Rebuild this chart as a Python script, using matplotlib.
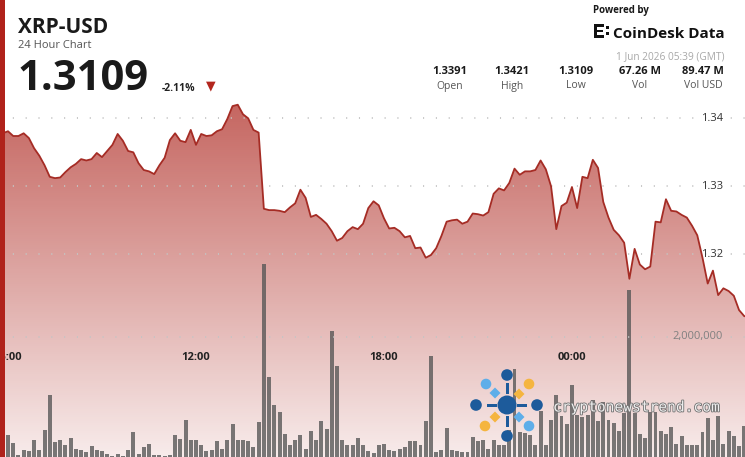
import numpy as np
import pandas as pd
import matplotlib
matplotlib.use('Agg')
import matplotlib.pyplot as plt
import matplotlib.dates as mdates
from matplotlib.colors import LinearSegmentedColormap
from matplotlib.patches import Rectangle, Circle, Polygon
import matplotlib.patheffects as pe

plt.rcParams['font.family'] = ['Open Sans', 'DejaVu Sans']

# ---------------- data ----------------
symbol = "XRP-USD"
subtitle = "24 Hour Chart"
last_price = "1.3109"
change_pct = "-2.11%"
stat_values = ["1.3391", "1.3421", "1.3109", "67.26 M", "89.47 M"]
stat_labels = ["Open", "High", "Low", "Vol", "Vol USD"]
timestamp = "1 Jun 2026 05:39 (GMT)"
price_ticks = [1.34, 1.33, 1.32]
price_tick_labels = ["1.34", "1.33", "1.32"]
volume_tick = 2_000_000
volume_tick_label = "2,000,000"
time_ticks = ["2026-05-31 06:00", "2026-05-31 12:00", "2026-05-31 18:00", "2026-06-01 00:00"]
time_tick_labels = ["06:00", "12:00", "18:00", "00:00"]
watermark = "cryptonewstrend.com"

prices = [
    1.3378, 1.3378, 1.3381, 1.3374, 1.3374, 1.3378, 1.3371, 1.3356, 1.3345, 1.3331,
    1.3314, 1.3312, 1.3313, 1.3321, 1.3328, 1.3333, 1.3340, 1.3338, 1.3340, 1.3349,
    1.3343, 1.3352, 1.3361, 1.3377, 1.3367, 1.3352, 1.3350, 1.3334, 1.3324, 1.3322,
    1.3318, 1.3331, 1.3342, 1.3368, 1.3378, 1.3367, 1.3365, 1.3383, 1.3361, 1.3377,
    1.3374, 1.3375, 1.3381, 1.3384, 1.3399, 1.3418, 1.3420, 1.3406, 1.3400, 1.3383,
    1.3379, 1.3267, 1.3265, 1.3265, 1.3264, 1.3262, 1.3269, 1.3275, 1.3295, 1.3283,
    1.3255, 1.3258, 1.3252, 1.3245, 1.3234, 1.3220, 1.3224, 1.3234, 1.3240, 1.3237,
    1.3245, 1.3268, 1.3278, 1.3272, 1.3253, 1.3238, 1.3239, 1.3234, 1.3225, 1.3227,
    1.3209, 1.3210, 1.3195, 1.3199, 1.3209, 1.3227, 1.3248, 1.3250, 1.3251, 1.3245,
    1.3248, 1.3260, 1.3259, 1.3257, 1.3262, 1.3289, 1.3297, 1.3294, 1.3305, 1.3326,
    1.3317, 1.3322, 1.3322, 1.3324, 1.3338, 1.3325, 1.3300, 1.3237, 1.3271, 1.3276,
    1.3299, 1.3268, 1.3314, 1.3312, 1.3339, 1.3327, 1.3277, 1.3254, 1.3236, 1.3228,
    1.3217, 1.3164, 1.3208, 1.3185, 1.3178, 1.3182, 1.3248, 1.3247, 1.3281, 1.3264,
    1.3263, 1.3258, 1.3254, 1.3242, 1.3228, 1.3195, 1.3157, 1.3176, 1.3140, 1.3150,
    1.3146, 1.3139, 1.3118, 1.3109, 1.3109,
]

volumes_k = [
    150, 200, 361, 233, 30, 111, 94, 278, 111, 456,
    1039, 250, 278, 194, 317, 139, 122, 83, 183, 122,
    100, 56, 11, 44, 11, 111, 422, 44, 167, 211,
    28, 39, 17, 33, 372, 300, 611, 289, 278, 194,
    100, 122, 261, 133, 278, 556, 278, 278, 261, 167,
    583, 3211, 1333, 861, 750, 389, 194, 278, 372, 139,
    433, 278, 600, 472, 2094, 1511, 289, 206, 206, 317,
    194, 94, 60, 194, 222, 122, 94, 139, 167, 267,
    267, 194, 600, 1678, 83, 111, 489, 111, 100, 83,
    83, 333, 267, 278, 128, 278, 194, 194, 444, 1472,
    417, 400, 361, 194, 767, 194, 622, 1028, 678, 556,
    1194, 694, 667, 694, 944, 600, 917, 622, 567, 433,
    733, 2789, 733, 378, 322, 750, 750, 433, 378, 500,
    222, 344, 194, 194, 194, 417, 656, 278, 678, 211,
    433, 344, 178, 511,
]

price_times = pd.date_range("2026-05-31 05:40", periods=len(prices), freq="10min")
bar_times = pd.date_range("2026-05-31 05:40", periods=len(volumes_k), freq="10min")

# ---------------- figure ----------------
W, H = 745, 457
fig = plt.figure(figsize=(W / 100, H / 100), dpi=100, facecolor='white')
rect = [0, 0, 1, 362 / H]

xlo = mdates.date2num(pd.Timestamp("2026-05-31 05:44:42"))
xhi = mdates.date2num(pd.Timestamp("2026-06-01 05:31:24"))
ylo, yhi = 1.29019, 1.34343

# price axes (below)
ax = fig.add_axes(rect, zorder=1)
ax.set_axis_off()
px = mdates.date2num(price_times)
cmap = LinearSegmentedColormap.from_list(
    'fade', [(0.71, 0.235, 0.204, 0.10), (0.71, 0.235, 0.204, 0.80)])
grad = np.linspace(1, 0, 256).reshape(-1, 1)
img = ax.imshow(grad, cmap=cmap, vmin=0, vmax=1, aspect='auto',
                extent=[px[0], px[-1], ylo, yhi], origin='upper', zorder=1,
                interpolation='bilinear')
verts = np.vstack([np.column_stack([px, prices]),
                   [[px[-1], ylo], [px[0], ylo]]])
clip = Polygon(verts, closed=True, transform=ax.transData,
               facecolor='none', edgecolor='none')
ax.add_patch(clip)
img.set_clip_path(clip)
for v in price_ticks:
    ax.axhline(v, color='#c4c4c4', lw=1.3, linestyle=(0, (0.6, 6.5)), zorder=2)
ax.plot(px, prices, color='#a52c25', lw=1.3, zorder=3)
ax.set_xlim(xlo, xhi)
ax.set_ylim(ylo, yhi)

for v, lab in zip(price_ticks, price_tick_labels):
    ax.text(0.9705, v, lab, transform=ax.get_yaxis_transform(), ha='right',
            va='center', fontsize=8, color='#333333', zorder=4)
for t, lab in zip(time_ticks, time_tick_labels):
    ax.text(mdates.date2num(pd.Timestamp(t)), 0.276, lab,
            transform=ax.get_xaxis_transform(), ha='center', va='center',
            fontsize=8, fontweight='bold', color='#222222', zorder=4)

# volume axes (above, transparent)
ax2 = fig.add_axes(rect, zorder=2)
ax2.set_axis_off()
ax2.patch.set_visible(False)
bx = mdates.date2num(bar_times)
ax2.axhline(volume_tick, color='#c4c4c4', lw=1.3, linestyle=(0, (0.6, 6.5)))
ax2.bar(bx, np.array(volumes_k) * 1000, width=0.76 * 10 / 1440,
        color='#555555', alpha=0.78, linewidth=0)
ax2.set_xlim(xlo, xhi)
ax2.set_ylim(0, 6.033e6)
ax2.text(0.9705, volume_tick, volume_tick_label, transform=ax2.get_yaxis_transform(),
         ha='right', va='center', fontsize=8, color='#808080')

# ---------------- overlay: header, logos ----------------
ov = fig.add_axes([0, 0, 1, 1], zorder=3)
ov.set_xlim(0, W)
ov.set_ylim(H, 0)
ov.set_axis_off()
ov.patch.set_visible(False)

ov.add_patch(Rectangle((0, 0), 4.5, H, color='#b0221b', lw=0))

ov.text(18, 33, symbol, fontsize=15, fontweight='bold', color='#1a1a1a', va='baseline')
ov.text(18, 48, subtitle, fontsize=8, color='#555555', va='baseline')
ov.text(18, 90, last_price, fontsize=30, fontweight='bold', color='#1a1a1a', va='baseline')
ov.text(162, 91, change_pct, fontsize=7.5, fontweight='bold', color='#222222', va='baseline')
ov.text(211, 86, "\u25BC", fontsize=9, color='#b3261e', ha='center', va='center',
        family=['DejaVu Sans'])

ov.text(593, 13, "Powered by", fontsize=7, fontweight='bold', color='#1a1a1a', va='baseline')
# CoinDesk icon
for r in [(594, 24, 3, 13.5), (594, 24, 10, 2.6), (597, 29.6, 6, 2.4), (594, 35, 10, 2.6),
          (606, 26, 3, 2.6), (606, 32, 3, 2.6)]:
    ov.add_patch(Rectangle((r[0], r[1]), r[2], r[3], color='#111111', lw=0))
ov.text(613, 37.5, "CoinDesk Data", fontsize=11, fontweight='bold', color='#111111',
        va='baseline')
ov.text(724, 59, timestamp, fontsize=7.3, color='#a8a8a8', ha='right', va='baseline')

stat_x = [450, 512, 576, 640, 703]
for xx, val, lab in zip(stat_x, stat_values, stat_labels):
    ov.text(xx, 74, val, fontsize=8, fontweight='bold', color='#1a1a1a', ha='center',
            va='baseline')
    ov.text(xx, 88.5, lab, fontsize=7.5, color='#555555', ha='center', va='baseline')

# watermark logo
dark, light, orange = '#1d5b9b', '#5eaee9', '#f5b53f'
cx, cy = 507, 405
for (x0, y0, w, h) in [(487, 403.5, 10, 3), (517, 403.5, 10, 3),
                       (505.5, 383, 3, 11), (505.5, 416, 3, 11)]:
    ov.add_patch(Rectangle((x0, y0), w, h, color=dark, lw=0))
ov.add_patch(Circle((cx, cy), 9.5, color=dark, lw=0))
for (x0, y0) in [(476, 405), (537, 405), (507, 375), (507, 436)]:
    ov.add_patch(Circle((x0, y0), 5.8, color=dark, lw=0))
ov.add_patch(Circle((486, 384), 5.3, color=light, lw=0))
ov.add_patch(Circle((529, 426), 5.3, color=light, lw=0))
ov.add_patch(Circle((529, 384), 5.3, color=orange, lw=0))
ov.add_patch(Circle((485, 426), 5.3, color=orange, lw=0))


def diamond(x0, y0, s, c):
    ov.add_patch(Polygon([[x0, y0 - s], [x0 + s, y0], [x0, y0 + s], [x0 - s, y0]],
                         closed=True, color=c, lw=0))


diamond(495, 393, 5.5, light)
diamond(519, 394, 5.5, orange)
diamond(495, 417, 5.5, orange)
diamond(519, 417, 5.5, light)

ov.text(553, 407, watermark, fontsize=10.5, family=['DejaVu Sans Mono'], color='#eeeeee',
        va='center', ha='left',
        path_effects=[pe.withStroke(linewidth=1.2, foreground='#707070')])

fig.savefig('out.png', dpi=100, facecolor='white')
